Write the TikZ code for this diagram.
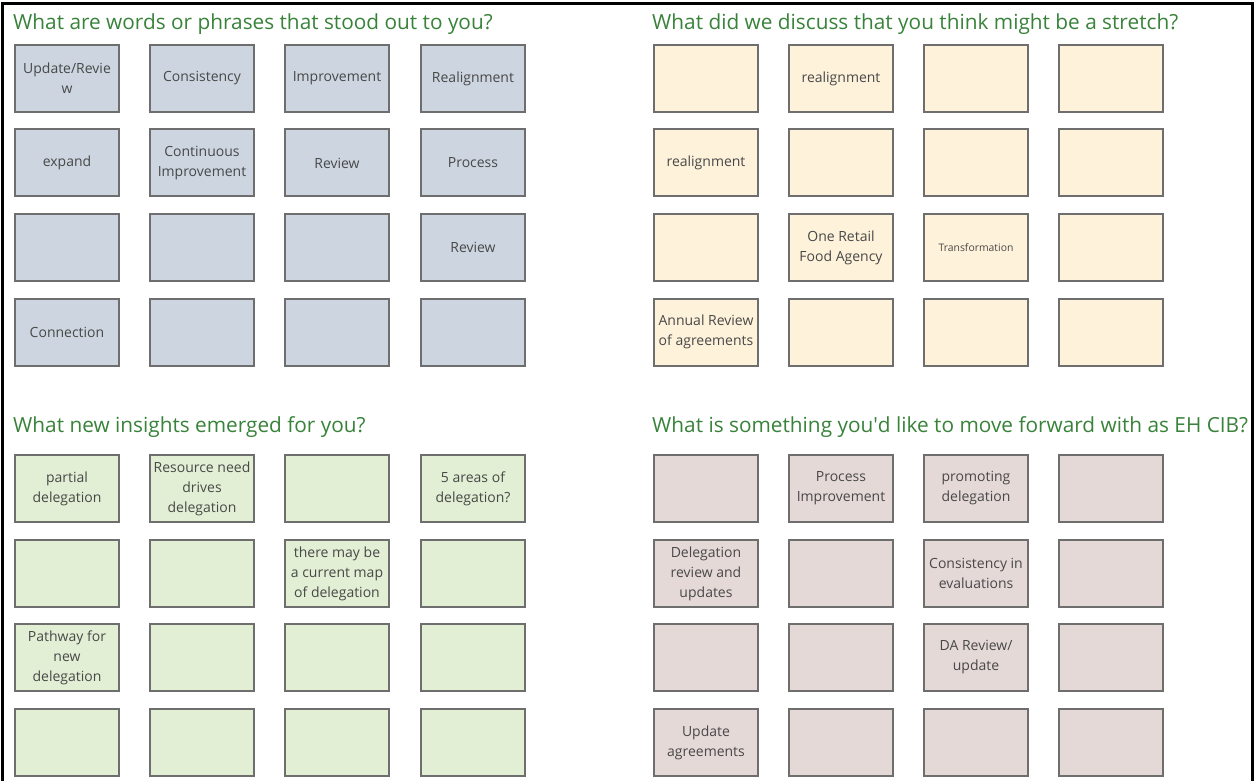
\documentclass[tikz,border=0pt]{standalone}
\usepackage{fontspec}
\setmainfont{Open Sans}

\definecolor{titlegreen}{RGB}{56,130,58}
\definecolor{wordsfill}{RGB}{205,214,224}
\definecolor{stretchfill}{RGB}{255,242,219}
\definecolor{insightfill}{RGB}{226,239,212}
\definecolor{forwardfill}{RGB}{229,217,215}
\definecolor{noteline}{RGB}{110,110,110}
\definecolor{notetext}{RGB}{72,72,72}

\tikzset{
  note/.style={draw=noteline, line width=2pt, minimum width=104pt, minimum height=67pt,
    inner sep=1pt, align=center, text=notetext, font=\fontsize{14}{20}\selectfont},
  wordnote/.style={note, fill=wordsfill},
  stretchnote/.style={note, fill=stretchfill},
  insightnote/.style={note, fill=insightfill},
  forwardnote/.style={note, fill=forwardfill},
  question/.style={anchor=base west, inner sep=0pt, text=titlegreen, font=\fontsize{20.8}{25}\selectfont}
}

\begin{document}
\begin{tikzpicture}[x=1pt,y=-1pt]
    \useasboundingbox (0,0) rectangle (1254,781);

    % Marco
    \draw[line width=3pt] (2.5,781) -- (2.5,4) -- (1252.5,4) -- (1252.5,781);

    % Preguntas
    \node[question] (q1) at (13,30) {What are words or phrases that stood out to you?};
    \node[question] (q2) at (652,30) {What did we discuss that you think might be a stretch?};
    \node[question] (q3) at (13,432) {What new insights emerged for you?};
    \node[question] (q4) at (652,432) {What is something you\textquotesingle d like to move forward with as EH CIB?};

    % Palabras o frases
    \node[wordnote] (wa11) at (67,78.5) {Update/Revie\\w};
    \node[wordnote] (wa12) at (202,78.5) {Consistency};
    \node[wordnote] (wa13) at (337,78.5) {Improvement};
    \node[wordnote] (wa14) at (473,78.5) {Realignment};
    \node[wordnote] (wa21) at (67,163) {expand};
    \node[wordnote] (wa22) at (202,163) {Continuous\\Improvement};
    \node[wordnote] (wa23) at (337,163) {Review};
    \node[wordnote] (wa24) at (473,163) {Process};
    \node[wordnote] (wa31) at (67,247.5) {};
    \node[wordnote] (wa32) at (202,247.5) {};
    \node[wordnote] (wa33) at (337,247.5) {};
    \node[wordnote] (wa34) at (473,247.5) {Review};
    \node[wordnote] (wa41) at (67,332) {Connection};
    \node[wordnote] (wa42) at (202,332) {};
    \node[wordnote] (wa43) at (337,332) {};
    \node[wordnote] (wa44) at (473,332) {};

    % Lo que puede ser un reto
    \node[stretchnote] (st11) at (706,78.5) {};
    \node[stretchnote] (st12) at (841,78.5) {realignment};
    \node[stretchnote] (st13) at (976,78.5) {};
    \node[stretchnote] (st14) at (1111,78.5) {};
    \node[stretchnote] (st21) at (706,163) {realignment};
    \node[stretchnote] (st22) at (841,163) {};
    \node[stretchnote] (st23) at (976,163) {};
    \node[stretchnote] (st24) at (1111,163) {};
    \node[stretchnote] (st31) at (706,247.5) {};
    \node[stretchnote] (st32) at (841,247.5) {One Retail\\Food Agency};
    \node[stretchnote, font=\fontsize{10.4}{12}\selectfont] (st33) at (976,247.5) {Transformation};
    \node[stretchnote] (st34) at (1111,247.5) {};
    \node[stretchnote] (st41) at (706,332) {Annual Review\\of agreements};
    \node[stretchnote] (st42) at (841,332) {};
    \node[stretchnote] (st43) at (976,332) {};
    \node[stretchnote] (st44) at (1111,332) {};

    % Nuevas ideas
    \node[insightnote] (in11) at (67,488.5) {partial\\delegation};
    \node[insightnote] (in12) at (202,488.5) {Resource need\\drives\\delegation};
    \node[insightnote] (in13) at (337,488.5) {};
    \node[insightnote] (in14) at (473,488.5) {5 areas of\\delegation?};
    \node[insightnote] (in21) at (67,573.5) {};
    \node[insightnote] (in22) at (202,573.5) {};
    \node[insightnote] (in23) at (337,573.5) {there may be\\a current map\\of delegation};
    \node[insightnote] (in24) at (473,573.5) {};
    \node[insightnote] (in31) at (67,657.5) {Pathway for\\new\\delegation};
    \node[insightnote] (in32) at (202,657.5) {};
    \node[insightnote] (in33) at (337,657.5) {};
    \node[insightnote] (in34) at (473,657.5) {};
    \node[insightnote] (in41) at (67,742.5) {};
    \node[insightnote] (in42) at (202,742.5) {};
    \node[insightnote] (in43) at (337,742.5) {};
    \node[insightnote] (in44) at (473,742.5) {};

    % Para avanzar
    \node[forwardnote] (fw11) at (706,488.5) {};
    \node[forwardnote] (fw12) at (841,488.5) {Process\\Improvement};
    \node[forwardnote] (fw13) at (976,488.5) {promoting\\delegation};
    \node[forwardnote] (fw14) at (1111,488.5) {};
    \node[forwardnote] (fw21) at (706,573.5) {Delegation\\review and\\updates};
    \node[forwardnote] (fw22) at (841,573.5) {};
    \node[forwardnote] (fw23) at (976,573.5) {Consistency in\\evaluations};
    \node[forwardnote] (fw24) at (1111,573.5) {};
    \node[forwardnote] (fw31) at (706,657.5) {};
    \node[forwardnote] (fw32) at (841,657.5) {};
    \node[forwardnote] (fw33) at (976,657.5) {DA Review/\\update};
    \node[forwardnote] (fw34) at (1111,657.5) {};
    \node[forwardnote] (fw41) at (706,742.5) {Update\\agreements};
    \node[forwardnote] (fw42) at (841,742.5) {};
    \node[forwardnote] (fw43) at (976,742.5) {};
    \node[forwardnote] (fw44) at (1111,742.5) {};
\end{tikzpicture}
\end{document}
